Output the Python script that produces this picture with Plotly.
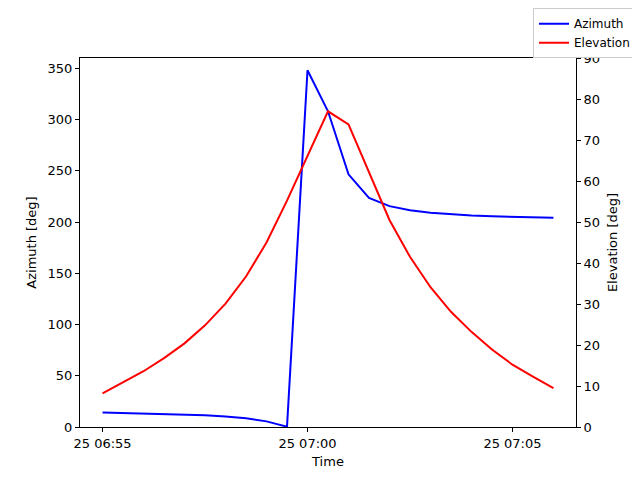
import pandas as pd
import plotly.graph_objects as go

# pass samples, every 30 s
times = pd.date_range("2024-01-25 06:55:00", "2024-01-25 07:06:00", freq="30s")
azimuth = [14.2, 13.8, 13.4, 12.9, 12.3, 11.5, 10.3, 8.5, 5.5, 0.3,
           348.0, 308.0, 246.5, 223.5, 215.5, 211.5, 209.0, 207.5,
           206.3, 205.5, 205.0, 204.6, 204.2]
elevation = [8.2, 10.8, 13.6, 16.8, 20.4, 24.8, 30.1, 36.7, 45.0, 55.2,
             66.0, 77.0, 73.8, 62.0, 50.5, 41.5, 34.1, 28.1, 23.2, 18.9,
             15.2, 12.3, 9.5]
tick_times = ["2024-01-25 06:55:00", "2024-01-25 07:00:00", "2024-01-25 07:05:00"]

fig = go.Figure()
fig.add_trace(go.Scatter(x=times, y=azimuth, name="Azimuth", mode="lines",
                         line=dict(color="#0000ff", width=2)))
fig.add_trace(go.Scatter(x=times, y=elevation, name="Elevation", mode="lines",
                         line=dict(color="#ff0000", width=2), yaxis="y2"))

axis_style = dict(showgrid=False, zeroline=False, showline=True, linecolor="black",
                  linewidth=1, ticks="outside", ticklen=4, tickcolor="black",
                  tickfont=dict(size=13, color="black"))
title_font = dict(size=13, color="black")

# the page adds an 8px body margin, so margins are shifted to compensate
fig.update_layout(
    width=640, height=480,
    margin=dict(l=72, r=72, t=50, b=61, autoexpand=False),
    paper_bgcolor="white", plot_bgcolor="white",
    font=dict(family="DejaVu Sans", size=13, color="black"),
    xaxis=dict(**axis_style, mirror=True, tickvals=tick_times, tickformat="%d %H:%M",
               range=["2024-01-25 06:54:27", "2024-01-25 07:06:33"],
               title=dict(text="Time", standoff=7, font=title_font)),
    yaxis=dict(**axis_style, range=[0, 360], dtick=50,
               title=dict(text="Azimuth [deg]", standoff=8, font=title_font)),
    yaxis2=dict(**axis_style, overlaying="y", side="right", range=[0, 90], dtick=10,
                title=dict(text="Elevation [deg]", standoff=8, font=title_font)),
    legend=dict(x=1.121, y=1.135, xanchor="right", yanchor="top", bgcolor="white",
                bordercolor="#cccccc", borderwidth=1, font=dict(size=12),
                itemwidth=30, tracegroupgap=0),
    showlegend=True,
)

fig.write_html("out.html")
